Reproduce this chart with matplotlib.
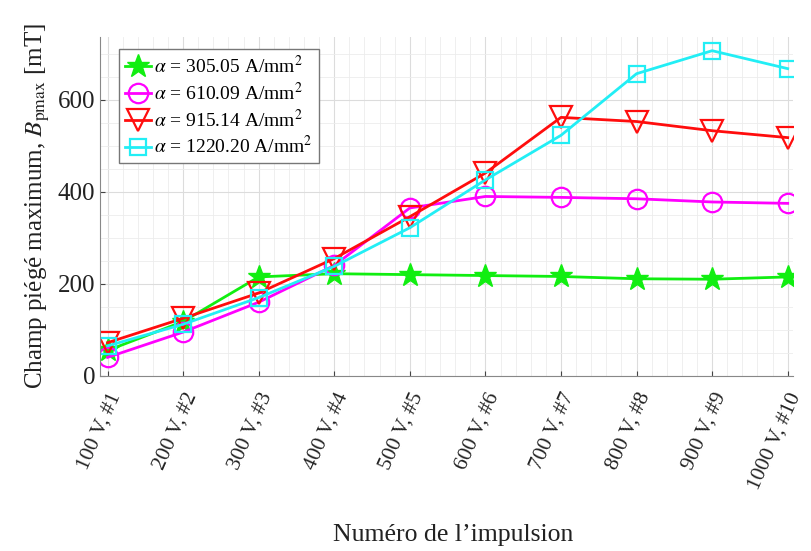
import matplotlib
matplotlib.use('Agg')
import matplotlib.pyplot as plt
from matplotlib.ticker import MultipleLocator

plt.rcParams['font.family'] = ['Liberation Serif', 'DejaVu Serif']
plt.rcParams['mathtext.fontset'] = 'stix'

# Data
pulses = ['100 V, #1', '200 V, #2', '300 V, #3', '400 V, #4', '500 V, #5',
          '600 V, #6', '700 V, #7', '800 V, #8', '900 V, #9', '1000 V, #10']
b_305 = [55, 118, 215, 222, 220, 218, 216, 211, 210, 215]
b_610 = [40, 95, 160, 240, 365, 390, 388, 385, 378, 375]
b_915 = [72, 125, 180, 255, 346, 441, 562, 553, 533, 518]
b_1220 = [65, 112, 170, 238, 322, 426, 523, 657, 707, 668]
labels = [r'$\alpha$ = 305.05 A/mm$^2$', r'$\alpha$ = 610.09 A/mm$^2$',
          r'$\alpha$ = 915.14 A/mm$^2$', r'$\alpha$ = 1220.20 A/mm$^2$']

x = list(range(1, len(pulses) + 1))

fig = plt.figure(figsize=(8.11, 5.51), dpi=100)
ax = fig.add_axes([0.1233, 0.318, 0.8545, 0.615])

ax.plot(x, b_305, color='#11ee11', lw=2, marker='*', ms=17, mfc='#11ee11',
        mec='#11ee11', label=labels[0])
ax.plot(x, b_610, color='#ff00ff', lw=2, marker='o', ms=14, mfc='none',
        mew=1.6, label=labels[1])
ax.plot(x, b_915, color='#ff0d0d', lw=2, marker='v', ms=16, mfc='none',
        mew=1.6, label=labels[2])
ax.plot(x, b_1220, color='#22eef5', lw=2, marker='s', ms=12, mfc='none',
        mew=1.6, label=labels[3])

ax.set_xlim(0.9, 10.07)
ax.set_ylim(0, 737)
ax.set_xticks(x)
ax.set_xticklabels(pulses, rotation=66, ha='right', va='top',
                   rotation_mode='anchor', fontsize=15.5)
ax.set_yticks([0, 200, 400, 600])
ax.tick_params(axis='y', labelsize=18)
ax.tick_params(axis='x', pad=10)
ax.xaxis.set_minor_locator(MultipleLocator(0.2))
ax.yaxis.set_minor_locator(MultipleLocator(50))
ax.tick_params(which='both', direction='in', colors='#444444', labelcolor='#222222')
ax.tick_params(which='minor', length=0)
ax.grid(which='major', color='#dcdcdc', lw=0.8)
ax.grid(which='minor', color='#ececec', lw=0.6)
ax.set_axisbelow(True)
for s in ['top', 'right']:
    ax.spines[s].set_visible(False)
for s in ['left', 'bottom']:
    ax.spines[s].set_color('#888888')

ax.set_ylabel(r'Champ piégé maximum, $B_{\rm pmax}$ [mT]', fontsize=18, color='#222222')
ax.set_xlabel("Numéro de l’impulsion", fontsize=18.5, color='#222222', va='center')
ax.xaxis.set_label_coords(0.51, -0.47)

leg = ax.legend(loc='upper left', bbox_to_anchor=(0.028, 0.965), fontsize=14,
                fancybox=False, edgecolor='#777777', framealpha=1,
                handlelength=1.3, handletextpad=0.2, borderpad=0.3,
                labelspacing=0.25, borderaxespad=0)

fig.savefig('out.png', dpi=100)
